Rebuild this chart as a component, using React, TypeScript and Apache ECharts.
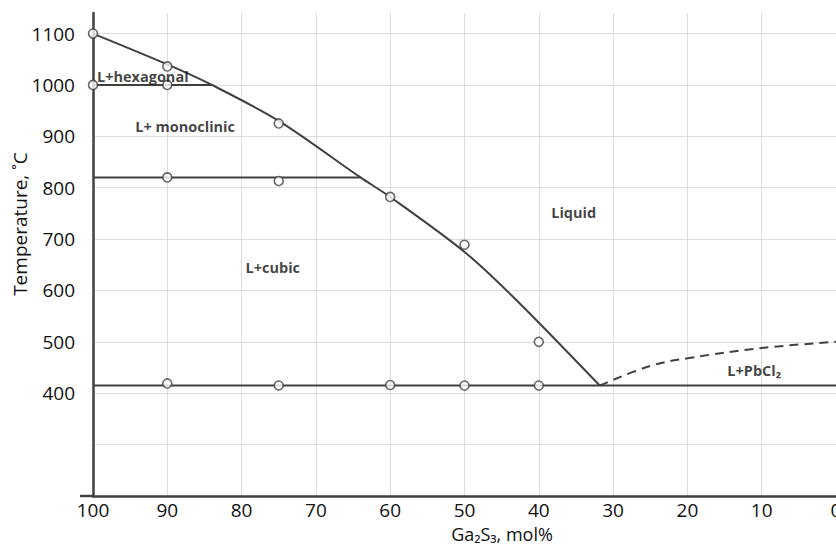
import React, { useEffect, useRef } from "react";
import * as echarts from "echarts";

const liquidus: [number, number][] = [
  [100, 1100], [90, 1040], [84, 1000], [75, 930], [64, 820], [60, 782], [50, 675], [43, 581], [31.8, 415],
];
const dashedCurve: [number, number][] = [
  [31.8, 415], [25, 453], [20, 468], [10, 488], [0, 500],
];
const line1000: [number, number][] = [[100, 1000], [83.8, 1000]];
const line820: [number, number][] = [[100, 820], [64, 820]];
const line415: [number, number][] = [[100, 415], [0, 415]];
const measuredX = [100, 100, 90, 90, 75, 90, 75, 60, 50, 40, 90, 75, 60, 50, 40];
const measuredY = [1100, 1000, 1036, 1000, 925, 820, 813, 782, 689, 500, 419, 415, 416, 415, 415];
const regionLabels = ["L+hexagonal", "L+ monoclinic", "Liquid", "L+cubic", "L+PbCl₂"];
const regionX = [93.3, 87.6, 35.3, 75.8, 11.0];
const regionY = [1017, 920, 751, 644, 445];

const FONT = "'Open Sans', 'Noto Sans', sans-serif";
const DARK = "#404040";

export default function App() {
  const ref = useRef<HTMLDivElement>(null);
  useEffect(() => {
    if (!ref.current) return;
    const chart = echarts.init(ref.current, null, { renderer: "svg" });
    const lineSeries = (data: [number, number][], extra: any = {}) => ({
      type: "line",
      data,
      showSymbol: false,
      symbol: "none",
      silent: true,
      lineStyle: { color: DARK, width: 2, ...(extra.lineStyle || {}) },
      smooth: extra.smooth || false,
      z: 3,
    });
    chart.setOption({
      animation: false,
      backgroundColor: "#ffffff",
      grid: { left: 93, right: 0, top: 13, bottom: 49, outerBoundsMode: "none", containLabel: false },
      xAxis: {
        type: "value",
        inverse: true,
        min: 0,
        max: 100,
        interval: 10,
        axisLine: { show: true, lineStyle: { color: DARK, width: 2.5 } },
        axisTick: { show: false },
        axisLabel: { color: "#111", fontSize: 19, fontFamily: FONT, margin: 4, lineHeight: 20 },
        splitLine: { show: true, lineStyle: { color: "#dcdcdc", width: 1 } },
      },
      yAxis: {
        type: "value",
        min: 200,
        max: 1140,
        interval: 100,
        axisLine: { show: true, onZero: false, lineStyle: { color: DARK, width: 2.5 } },
        axisTick: { show: false },
        axisLabel: {
          color: "#111",
          fontSize: 19,
          fontFamily: FONT,
          margin: 18,
          showMaxLabel: false,
          formatter: (v: number) => (v < 400 || v > 1100 ? "" : String(v)),
        },
        splitLine: { show: true, showMaxLine: false, lineStyle: { color: "#dcdcdc", width: 1 } },
      },
      graphic: [
        {
          type: "line",
          shape: { x1: 80, y1: 496, x2: 93, y2: 496 },
          style: { stroke: DARK, lineWidth: 2.5 },
          z: 10,
        },
        {
          type: "text",
          x: 20,
          y: 224,
          rotation: Math.PI / 2,
          style: {
            text: "Temperature, ˚C",
            fill: "#111",
            font: `19px ${FONT}`,
            textAlign: "center",
            textVerticalAlign: "middle",
          },
        },
        {
          type: "text",
          x: 502,
          y: 534,
          style: {
            text: "Ga₂S₃, mol%",
            fill: "#111",
            font: `18px ${FONT}`,
            textAlign: "center",
            textVerticalAlign: "middle",
          },
        },
      ],
      series: [
        lineSeries(liquidus, { smooth: 0.3 }),
        lineSeries(dashedCurve, { smooth: 0.4, lineStyle: { type: [9, 6] } }),
        lineSeries(line1000),
        lineSeries(line820),
        lineSeries(line415),
        {
          type: "scatter",
          data: measuredX.map((x, i) => [x, measuredY[i]]),
          symbol: "circle",
          symbolSize: 9,
          itemStyle: { color: "#ffffff", borderColor: DARK, borderWidth: 1.6 },
          z: 5,
          silent: true,
        },
        {
          type: "scatter",
          data: regionLabels.map((t, i) => ({ value: [regionX[i], regionY[i]], name: t })),
          symbolSize: 0,
          z: 6,
          silent: true,
          label: {
            show: true,
            position: "inside",
            formatter: (p: any) => p.name,
            color: "#111",
            fontSize: 14.5,
            fontWeight: "bold",
            fontFamily: FONT,
          },
        },
      ],
    });
    return () => chart.dispose();
  }, []);
  return (
    <div
      ref={ref}
      style={{ position: "fixed", left: 0, top: 0, width: 836, height: 545, background: "#fff" }}
    />
  );
}
